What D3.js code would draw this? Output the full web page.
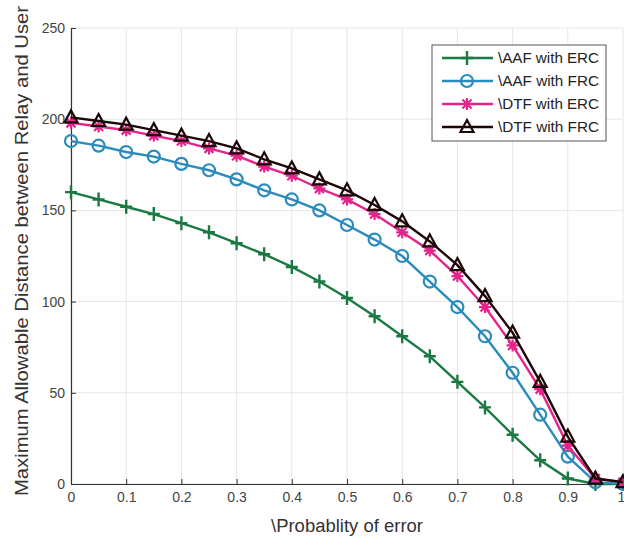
<!DOCTYPE html>
<html>
<head>
<meta charset="utf-8">
<script src="https://cdn.jsdelivr.net/npm/d3@7"></script>
<style>
  body { margin: 0; background: #fff; }
  text { font-family: "Liberation Sans", Arial, sans-serif; }
</style>
</head>
<body>
<div id="graph-section"></div>
<script>
// data
let pe = [0, 0.05, 0.1, 0.15, 0.2, 0.25, 0.3, 0.35, 0.4, 0.45, 0.5,
          0.55, 0.6, 0.65, 0.7, 0.75, 0.8, 0.85, 0.9, 0.95, 1];
let aafErc = [160, 156, 152, 148, 143, 138, 132, 126, 119, 111, 102,
              92, 81, 70, 56, 42, 27, 13, 3, 0, 0];
let aafFrc = [188, 185.5, 182, 179.5, 175.5, 172, 167, 161, 156, 150, 142,
              134, 125, 111, 97, 81, 61, 38, 15, 1, 0];
let dtfErc = [198, 196, 194, 191, 188, 184, 180, 174, 169, 162, 156,
              148, 138, 128, 114, 97, 76, 52, 21, 3, 1];
let dtfFrc = [201, 199, 197, 194, 191, 188, 184, 178, 173, 167, 161,
              153, 144, 133, 120, 103, 83, 56, 26, 3, 1];
let seriesNames = ["\\AAF with ERC", "\\AAF with FRC", "\\DTF with ERC", "\\DTF with FRC"];
let xTicks = [0, 0.1, 0.2, 0.3, 0.4, 0.5, 0.6, 0.7, 0.8, 0.9, 1];
let yTicks = [0, 50, 100, 150, 200, 250];

let svgWidth = 624;
let svgHeight = 539;
let chartMargin = { top: 28, right: 1, bottom: 55, left: 71 };
let chartWidth = 623 - chartMargin.left;
let chartHeight = svgHeight - chartMargin.top - chartMargin.bottom;

let x = d3.scaleLinear().domain([0, 1]).range([0, chartWidth]);
let y = d3.scaleLinear().domain([0, 250]).range([chartHeight, 0]);

let svg = d3.select("#graph-section").append("svg")
    .attr("width", svgWidth)
    .attr("height", svgHeight);

let g = svg.append("g")
    .attr("transform", `translate(${chartMargin.left}, ${chartMargin.top})`);

// grid
g.selectAll(".gx").data(xTicks).enter().append("line")
    .attr("x1", d => x(d)).attr("x2", d => x(d))
    .attr("y1", 0).attr("y2", chartHeight)
    .style("stroke", "#e6e6e6").style("stroke-width", 1);
g.selectAll(".gy").data(yTicks).enter().append("line")
    .attr("x1", 0).attr("x2", chartWidth)
    .attr("y1", d => y(d)).attr("y2", d => y(d))
    .style("stroke", "#e6e6e6").style("stroke-width", 1);

// axes (ticks inside, like matlab)
let xAxis = g.append("g")
    .attr("transform", `translate(0, ${chartHeight})`)
    .call(d3.axisBottom(x).tickValues(xTicks).tickSizeInner(-5).tickSizeOuter(0)
        .tickFormat(d => d === 0 || d === 1 ? d : d3.format(".1f")(d)));
let yAxis = g.append("g")
    .call(d3.axisLeft(y).tickValues(yTicks).tickSizeInner(-5).tickSizeOuter(0));

[xAxis, yAxis].forEach(a => {
    a.select(".domain").style("stroke", "#333").style("stroke-width", 1.2);
    a.selectAll(".tick line").style("stroke", "#333");
    a.selectAll("text").style("font-size", "14px").style("fill", "#444")
        .style("font-family", "'Liberation Sans', Arial, sans-serif");
});
xAxis.selectAll("text").attr("dy", "1.1em");
// last label sits on the window edge, as in the original
xAxis.selectAll(".tick").filter(d => d === 1).select("text").attr("x", -2);
yAxis.selectAll("text").attr("x", -6);

// axis titles
svg.append("text")
    .attr("x", chartMargin.left + x(0.5)).attr("y", 532)
    .attr("text-anchor", "middle")
    .attr("textLength", 152).attr("lengthAdjust", "spacingAndGlyphs")
    .style("font-size", "18px").style("fill", "#333")
    .text("\\Probablity of error");
svg.append("text")
    .attr("transform", `translate(28, 251) rotate(-90)`)
    .attr("text-anchor", "middle")
    .attr("textLength", 490).attr("lengthAdjust", "spacingAndGlyphs")
    .style("font-size", "18px").style("fill", "#333")
    .text("Maximum Allowable Distance between Relay and User");

// markers
function drawMarker(sel, type, color) {
    if (type === "plus") {
        sel.append("path").attr("d", "M-6,0H6M0,-7V7")
            .style("stroke", color).style("stroke-width", 2.4).style("fill", "none");
    } else if (type === "circle") {
        sel.append("circle").attr("r", 6)
            .style("stroke", color).style("stroke-width", 2.2).style("fill", "none");
    } else if (type === "star") {
        sel.append("path").attr("d", "M-6,0H6M0,-6V6M-4.5,-4.5L4.5,4.5M-4.5,4.5L4.5,-4.5")
            .style("stroke", color).style("stroke-width", 2.2).style("fill", "none");
    } else {
        sel.append("path").attr("d", "M0,-7L6.5,5H-6.5Z")
            .style("stroke", color).style("stroke-width", 2.2).style("fill", "none");
    }
}

let seriesData = [aafErc, aafFrc, dtfErc, dtfFrc];
let colors = ["#1b7a43", "#2a8bbd", "#e5238b", "#1d0606"];
let markers = ["plus", "circle", "star", "tri"];

let line = d3.line().x((d, i) => x(pe[i])).y(d => y(d));

seriesData.forEach((vals, k) => {
    g.append("path").datum(vals)
        .attr("d", line)
        .style("fill", "none")
        .style("stroke", colors[k])
        .style("stroke-width", 2.4);
    g.selectAll(".m" + k).data(vals).enter().append("g")
        .attr("transform", (d, i) => `translate(${x(pe[i])}, ${y(d)})`)
        .each(function () { drawMarker(d3.select(this), markers[k], colors[k]); });
});

// legend
let legend = svg.append("g").attr("transform", "translate(432, 45)");
legend.append("rect")
    .attr("width", 174).attr("height", 96)
    .style("fill", "#fff").style("stroke", "#555").style("stroke-width", 1);
seriesNames.forEach((name, k) => {
    let row = legend.append("g").attr("transform", `translate(0, ${13 + k * 23})`);
    row.append("line").attr("x1", 10).attr("x2", 61)
        .style("stroke", colors[k]).style("stroke-width", 2.4);
    drawMarker(row.append("g").attr("transform", "translate(35, 0)"), markers[k], colors[k]);
    row.append("text").attr("x", 66).attr("y", 5)
        .attr("textLength", 101).attr("lengthAdjust", "spacingAndGlyphs")
        .style("font-size", "14.5px").style("fill", "#222")
        .text(name);
});
</script>
</body>
</html>
